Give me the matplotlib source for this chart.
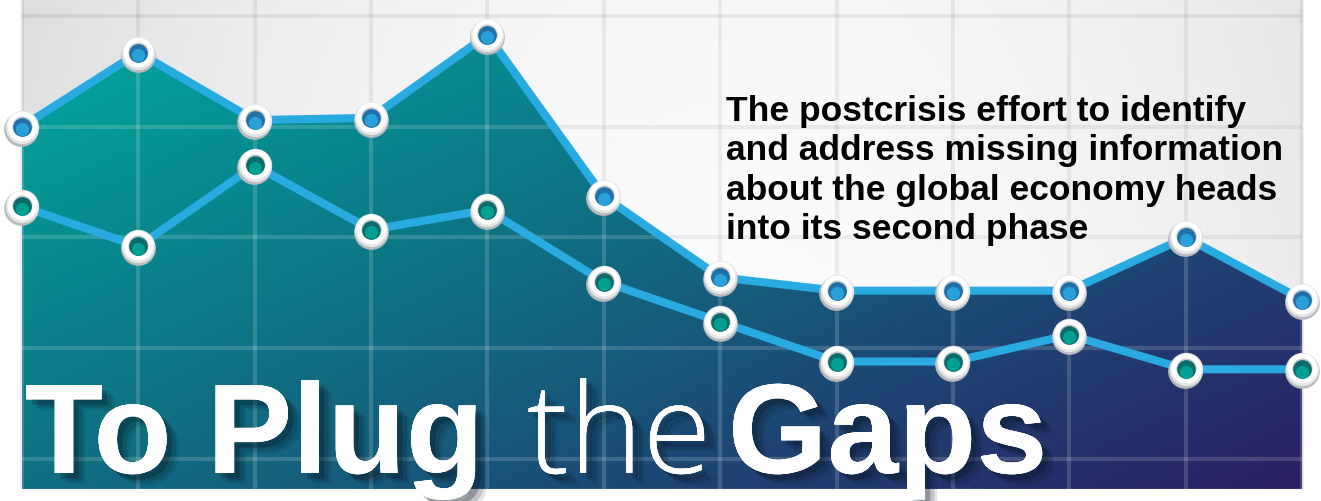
import numpy as np
import matplotlib
matplotlib.use("Agg")
import matplotlib.pyplot as plt
from matplotlib import patheffects as pe
from matplotlib.colors import LinearSegmentedColormap
from matplotlib.patches import Rectangle
from matplotlib.transforms import offset_copy

# ---- data (arbitrary units, grid every 10) ----
periods = np.arange(12)
upper = [30.0, 36.7, 30.6, 30.8, 38.3, 23.7, 16.4, 15.2, 15.2, 15.2, 20.0, 14.4]
lower = [22.8, 19.2, 26.5, 20.7, 22.5, 16.0, 12.4, 8.8, 8.8, 11.2, 8.1, 8.1]
grid_levels = [0, 10, 20, 30, 40]

title_bold_1 = "To Plug"
title_light = "the"
title_bold_2 = "Gaps"
deck_lines = [
    "The postcrisis effort to identify",
    "and address missing information",
    "about the global economy heads",
    "into its second phase",
]

FLOOR = -2.7                      # bottom edge of the chart panel
XLIM = (-0.189, 11.163)
YLIM = (-3.79, 41.53)
LINE_BLUE = "#29abe2"

fig = plt.figure(figsize=(13.21, 5.02), dpi=100)
ax = fig.add_axes([0, 0, 1, 1])
ax.set_xlim(*XLIM)
ax.set_ylim(*YLIM)
ax.axis("off")

x0, x1 = periods[0], periods[-1]
top = YLIM[1]

# grey -> white -> grey backdrop
gx = np.linspace(0, 1, 400)
gy = np.linspace(0, 1, 150)
GX, GY = np.meshgrid(gx, gy)
shade = 1 - 0.10 * ((GX - 0.55) / 0.55) ** 2 - 0.03 * (1 - GY)
bg = np.dstack([shade, shade, shade * 1.005]).clip(0, 1)
panel = Rectangle((x0, FLOOR), x1 - x0, top - FLOOR, facecolor="none", edgecolor="none")
ax.add_patch(panel)
im_bg = ax.imshow(bg, extent=(x0, x1, FLOOR, top), origin="upper", aspect="auto",
                  interpolation="bilinear", zorder=0)
im_bg.set_clip_path(panel)

# faint grid on the backdrop
for gv in grid_levels:
    ax.plot([x0, x1], [gv, gv], color="black", alpha=0.06, lw=3.0, zorder=1,
            solid_capstyle="butt")
for p in periods:
    ax.plot([p, p], [FLOOR, top], color="black", alpha=0.06, lw=3.0, zorder=1,
            solid_capstyle="butt")

# area under the upper series, with a diagonal teal -> purple gradient
fill = ax.fill_between(periods, upper, FLOOR, facecolor="none", edgecolor="none", zorder=2)
cmap = LinearSegmentedColormap.from_list(
    "gap", [(0.0, "#00ab9f"), (0.45, "#0f6f82"), (0.75, "#1f4272"), (1.0, "#2a1f62")])
t = (0.55 * GX + 0.45 * GY)
t = (t - t.min()) / (t.max() - t.min())
im_fill = ax.imshow(cmap(t), extent=(x0, x1, FLOOR, top), origin="upper", aspect="auto",
                    interpolation="bilinear", zorder=2)
clip_path = fill.get_paths()[0]
im_fill.set_clip_path(clip_path, ax.transData)

# lighter grid over the filled area
for gv in grid_levels:
    ln, = ax.plot([x0, x1], [gv, gv], color="white", alpha=0.16, lw=3.0, zorder=3,
                  solid_capstyle="butt")
    ln.set_clip_path(clip_path, ax.transData)
for p in periods:
    ln, = ax.plot([p, p], [FLOOR, top], color="white", alpha=0.16, lw=3.0, zorder=3,
                  solid_capstyle="butt")
    ln.set_clip_path(clip_path, ax.transData)

# the two lines
for series in (upper, lower):
    ax.plot(periods, series, color=LINE_BLUE, lw=5.8, solid_joinstyle="miter",
            solid_capstyle="butt", zorder=4)

# glossy markers: grey ring shadow, white ring, two-tone core
down = offset_copy(ax.transData, fig=fig, x=-0.5, y=-2, units="dots")
up = offset_copy(ax.transData, fig=fig, x=0, y=1, units="dots")
core_down = offset_copy(ax.transData, fig=fig, x=0, y=-2.5, units="dots")
for series, dark, light in ((upper, "#2170a9", "#2aa6de"), (lower, "#0b6c6b", "#00a597")):
    ax.plot(periods, series, "o", ms=25, mfc="#b9babd", mec="none", transform=down, zorder=5)
    ax.plot(periods, series, "o", ms=24, mfc="#e4e5e7", mec="none", zorder=5)
    ax.plot(periods, series, "o", ms=21.5, mfc="white", mec="none", transform=up, zorder=5)
    ax.plot(periods, series, "o", ms=14.5, mfc="#c9cbce", mec="none", transform=up, zorder=6)
    ax.plot(periods, series, "o", ms=13.5, mfc=dark, mec="none", zorder=6)
    ax.plot(periods, series, "o", ms=9.5, mfc=light, mec="none", transform=core_down,
            zorder=6, alpha=0.9)

# deck text
for i, line in enumerate(deck_lines):
    ax.text(0.5496, 0.759 - i * 0.0783, line, transform=ax.transAxes,
            fontsize=25.5, fontweight="bold", family=["Liberation Sans", "DejaVu Sans"],
            color="black", va="baseline", ha="left", zorder=7)

# big headline with drop shadow
shadow = [
    pe.withSimplePatchShadow(offset=(9, -8), shadow_rgbFace="#06121f", alpha=0.10),
    pe.withSimplePatchShadow(offset=(7, -6), shadow_rgbFace="#06121f", alpha=0.16),
    pe.withSimplePatchShadow(offset=(4, -4), shadow_rgbFace="#06121f", alpha=0.25),
    pe.Normal(),
]
base_y = 1 - 474 / 502
ax.text(0.0189, base_y, title_bold_1, transform=ax.transAxes, fontsize=92,
        fontweight="bold", family=["Liberation Sans", "DejaVu Sans"], color="white",
        va="baseline", ha="left", zorder=8, path_effects=shadow)
ax.text(0.399, base_y, title_light, transform=ax.transAxes, fontsize=90,
        fontweight="light", family=["Open Sans", "DejaVu Sans"], color="white",
        va="baseline", ha="left", zorder=8, path_effects=shadow)
ax.text(0.551, base_y, title_bold_2, transform=ax.transAxes, fontsize=92,
        fontweight="bold", family=["Liberation Sans", "DejaVu Sans"], color="white",
        va="baseline", ha="left", zorder=8, path_effects=shadow)

fig.savefig("out.png", dpi=100)
